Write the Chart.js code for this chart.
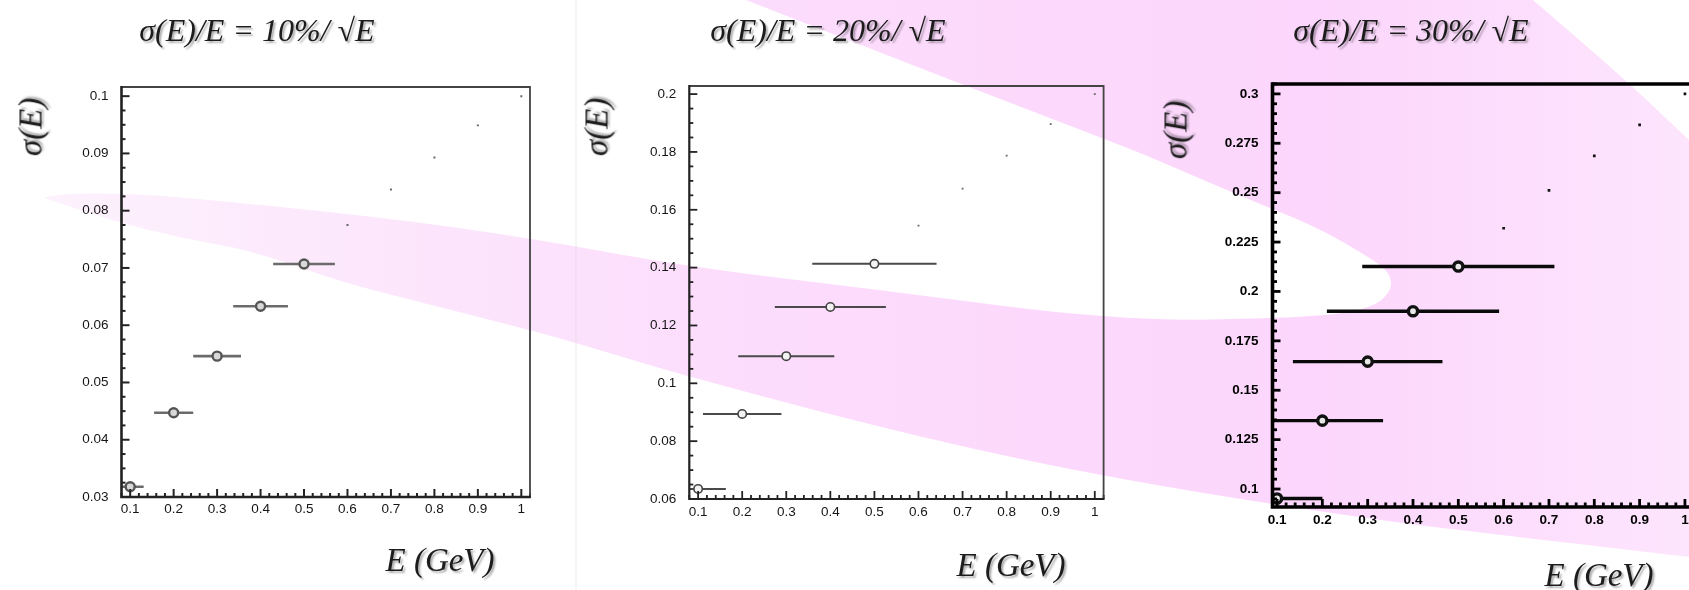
<!DOCTYPE html>
<html>
<head>
<meta charset="utf-8">
<title>Energy resolution</title>
<script src="https://cdn.jsdelivr.net/npm/chart.js@4.4.1/dist/chart.umd.min.js"></script>
<style>
  html, body { margin: 0; padding: 0; background: #fff; }
  #page { position: relative; width: 1689px; height: 590px; overflow: hidden; }
  #page canvas { position: absolute; left: 0; top: 0; }
  .lbl {
    position: absolute;
    font-family: "Liberation Serif", "DejaVu Serif", serif;
    font-style: italic;
    color: #1c1c1c;
    white-space: nowrap;
    text-shadow: 2px 2px 2px rgba(0, 0, 0, 0.32);
    transform: translate(-50%, -50%);
  }
  .title { font-size: 32px; }
  .xtitle { font-size: 33px; }
  .ytitle { font-size: 33px; transform: translate(-50%, -50%) rotate(-90deg); }
</style>
</head>
<body>
<div id="page">
  <canvas id="bg" width="1689" height="590"></canvas>
  <canvas id="c10" width="1720" height="590"></canvas>
  <canvas id="c20" width="1720" height="590"></canvas>
  <canvas id="c30" width="1720" height="590"></canvas>
</div>
<script>
// energies (GeV) and measured resolutions for the three calorimeter options
const energyGeV = [0.1, 0.2, 0.3, 0.4, 0.5, 0.6, 0.7, 0.8, 0.9, 1.0];

const sigma10 = [0.0318, 0.0447, 0.0546, 0.0633, 0.0707, 0.0775, 0.0837, 0.0893, 0.0949, 0.1];
const errE10  = [0.031, 0.045, 0.055, 0.063, 0.071, 0, 0, 0, 0, 0];

const sigma20 = [0.0635, 0.0894, 0.1094, 0.1264, 0.1413, 0.1545, 0.1673, 0.1787, 0.1896, 0.2];
const errE20  = [0.063, 0.089, 0.109, 0.126, 0.141, 0, 0, 0, 0, 0];

const sigma30 = [0.0952, 0.1346, 0.1645, 0.190, 0.2126, 0.232, 0.2512, 0.2686, 0.2843, 0.3];
const errE30  = [0.1, 0.134, 0.165, 0.19, 0.212, 0, 0, 0, 0, 0];

// axis ticks
const xTickValues = [0.1, 0.2, 0.3, 0.4, 0.5, 0.6, 0.7, 0.8, 0.9, 1];
const xTickLabels = ['0.1', '0.2', '0.3', '0.4', '0.5', '0.6', '0.7', '0.8', '0.9', '1'];

const yTicks10  = [0.03, 0.04, 0.05, 0.06, 0.07, 0.08, 0.09, 0.1];
const yLabels10 = ['0.03', '0.04', '0.05', '0.06', '0.07', '0.08', '0.09', '0.1'];

const yTicks20  = [0.06, 0.08, 0.1, 0.12, 0.14, 0.16, 0.18, 0.2];
const yLabels20 = ['0.06', '0.08', '0.1', '0.12', '0.14', '0.16', '0.18', '0.2'];

const yTicks30  = [0.1, 0.125, 0.15, 0.175, 0.2, 0.225, 0.25, 0.275, 0.3];
const yLabels30 = ['0.1', '0.125', '0.15', '0.175', '0.2', '0.225', '0.25', '0.275', '0.3'];

const panelTitles = ['σ(E)/E = 10%/ √E', 'σ(E)/E = 20%/ √E', 'σ(E)/E = 30%/ √E'];
const yAxisTitle = 'σ(E)';
const xAxisTitle = 'E (GeV)';

// layout and look of each panel
const panels = [
  {
    canvas: 'c10', sigma: sigma10, err: errE10, yTicks: yTicks10, yLabels: yLabels10,
    frame: { left: 121.5, top: 87, right: 530, bottom: 497 },
    xMin: 0.08, xMax: 1.02, yMin: 0.03, yMax: 0.1016, yMinor: 0.0025,
    title: { x: 257, y: 30 }, ytitle: { x: 31, y: 127 }, xtitle: { x: 440, y: 560 },
    font: { family: 'Liberation Sans', size: 13.5, weight: 'normal' }, tickColor: '#151515',
    axisWidth: 2.6, frameWidth: 1.8, axisColor: '#222', frameColor: '#444',
    majorLen: 8, minorLen: 4, tickWidth: 2,
    barColor: '#6b6b6b', barWidth: 2.6,
    marker: { r: 4.5, bw: 2.4, border: '#555', fill: '#d8d8d8' },
    dot: { r: 1.4, color: '#666' },
    yPad: 13, xPad: 4
  },
  {
    canvas: 'c20', sigma: sigma20, err: errE20, yTicks: yTicks20, yLabels: yLabels20,
    frame: { left: 689.3, top: 86, right: 1103.6, bottom: 499 },
    xMin: 0.08, xMax: 1.02, yMin: 0.06, yMax: 0.2028, yMinor: 0.005,
    title: { x: 828, y: 30 }, ytitle: { x: 597, y: 127 }, xtitle: { x: 1011, y: 565 },
    font: { family: 'Liberation Sans', size: 13.5, weight: 'normal' }, tickColor: '#151515',
    axisWidth: 2.2, frameWidth: 1.8, axisColor: '#222', frameColor: '#444',
    majorLen: 8, minorLen: 4, tickWidth: 1.8,
    barColor: '#4a4a4a', barWidth: 2,
    marker: { r: 4.2, bw: 1.6, border: '#444', fill: '#f2f2f2' },
    dot: { r: 1.3, color: '#666' },
    yPad: 13, xPad: 5
  },
  {
    canvas: 'c30', sigma: sigma30, err: errE30, yTicks: yTicks30, yLabels: yLabels30,
    frame: { left: 1272.5, top: 84, right: 1694, bottom: 507 },
    xMin: 0.09, xMax: 1.02, yMin: 0.0909, yMax: 0.305, yMinor: 0.005,
    title: { x: 1411, y: 30 }, ytitle: { x: 1176, y: 130 }, xtitle: { x: 1599, y: 575 },
    font: { family: 'Liberation Sans', size: 13.5, weight: 'bold' }, tickColor: '#000',
    axisWidth: 3.6, frameWidth: 3.6, axisColor: '#000', frameColor: '#000',
    majorLen: 8, minorLen: 4.5, tickWidth: 2.8,
    barColor: '#0a0a0a', barWidth: 3.4,
    marker: { r: 4.6, bw: 3.4, border: '#111', fill: '#e8e8e8' },
    dot: { r: 1.9, color: '#111' },
    yPad: 14, xPad: 5
  }
];

// pink swoosh in the slide background
function drawBackground() {
  const g = document.getElementById('bg').getContext('2d');
  g.fillStyle = '#fff';
  g.fillRect(0, 0, 1689, 590);

  const grad = g.createLinearGradient(0, 0, 1689, 0);
  grad.addColorStop(0, '#fdf3fd');
  grad.addColorStop(0.2, '#fce8fc');
  grad.addColorStop(0.45, '#fcdcfc');
  grad.addColorStop(0.78, '#fcd6fc');
  grad.addColorStop(1, '#fde5fd');

  const smooth = (pts) => {
    for (let i = 1; i < pts.length - 1; i++) {
      const mx = (pts[i][0] + pts[i + 1][0]) / 2;
      const my = (pts[i][1] + pts[i + 1][1]) / 2;
      g.quadraticCurveTo(pts[i][0], pts[i][1], mx, my);
    }
    const last = pts[pts.length - 1];
    g.lineTo(last[0], last[1]);
  };

  g.beginPath();
  g.moveTo(746, 0);
  g.lineTo(1533, 0);
  smooth([[1533, 0], [1583, 43], [1633, 87], [1689, 140]]);
  g.lineTo(1700, 140);
  g.lineTo(1700, 560);
  g.lineTo(1689, 557);
  smooth([[1689, 557], [1519, 537], [1374, 520], [1120, 480], [917, 437], [689, 377],
          [576, 343], [530, 330], [380, 292], [336, 280], [250, 250], [180, 238],
          [110, 220], [60, 203], [44, 198]]);
  smooth([[44, 198], [52, 194], [125, 193], [200, 199], [380, 217], [530, 238],
          [689, 267], [880, 290], [1120, 321], [1300, 318], [1368, 310], [1392, 292],
          [1390, 272], [1367, 256], [1317, 227], [1250, 200], [1150, 157], [1120, 145],
          [930, 72], [746, 0]]);
  g.closePath();
  g.fillStyle = grad;
  g.fill();

  // faint edge of the pasted middle plot
  g.fillStyle = 'rgba(215, 215, 215, 0.45)';
  g.fillRect(575.5, 0, 1, 590);
}

function addText(cls, text, x, y) {
  const d = document.createElement('div');
  d.className = 'lbl ' + cls;
  d.textContent = text;
  d.style.left = x + 'px';
  d.style.top = y + 'px';
  document.getElementById('page').appendChild(d);
}

// error bars, inward tick marks and the frame box
const panelDecor = {
  id: 'panelDecor',
  beforeDatasetsDraw(chart) {
    const st = chart.options.plugins.panelDecor;
    const { ctx, chartArea: a, scales: { x, y } } = chart;
    ctx.save();
    ctx.beginPath();
    ctx.rect(a.left, a.top, a.right - a.left, a.bottom - a.top);
    ctx.clip();
    ctx.strokeStyle = st.barColor;
    ctx.lineWidth = st.barWidth;
    ctx.lineCap = 'butt';
    chart.data.datasets[0].data.forEach(p => {
      if (!p.ex) return;
      const py = y.getPixelForValue(p.y);
      ctx.beginPath();
      ctx.moveTo(x.getPixelForValue(p.x - p.ex), py);
      ctx.lineTo(x.getPixelForValue(p.x + p.ex), py);
      ctx.stroke();
    });
    ctx.restore();
  },
  afterDraw(chart) {
    const st = chart.options.plugins.panelDecor;
    const { ctx, chartArea: a, scales: { x, y } } = chart;
    ctx.save();

    // tick marks pointing into the frame
    ctx.strokeStyle = st.axisColor;
    ctx.lineWidth = st.tickWidth;
    const near = (v, list) => list.some(t => Math.abs(t - v) < 1e-6);
    const xMinorStep = 0.02;
    for (let k = Math.ceil(st.xMin / xMinorStep - 1e-6); k * xMinorStep <= st.xMax + 1e-9; k++) {
      const v = k * xMinorStep;
      const len = near(v, xTickValues) ? st.majorLen : st.minorLen;
      const px = x.getPixelForValue(v);
      ctx.beginPath();
      ctx.moveTo(px, a.bottom);
      ctx.lineTo(px, a.bottom - len);
      ctx.stroke();
    }
    for (let k = Math.ceil(st.yMin / st.yMinor - 1e-6); k * st.yMinor <= st.yMax + 1e-9; k++) {
      const v = k * st.yMinor;
      const len = near(v, st.yTicks) ? st.majorLen : st.minorLen;
      const py = y.getPixelForValue(v);
      ctx.beginPath();
      ctx.moveTo(a.left, py);
      ctx.lineTo(a.left + len, py);
      ctx.stroke();
    }

    // top and right sides of the frame
    ctx.strokeStyle = st.frameColor;
    ctx.lineWidth = st.frameWidth;
    ctx.beginPath();
    ctx.moveTo(a.left, a.top);
    ctx.lineTo(a.right, a.top);
    ctx.lineTo(a.right, a.bottom);
    ctx.stroke();

    // axis lines
    ctx.strokeStyle = st.axisColor;
    ctx.lineWidth = st.axisWidth;
    ctx.beginPath();
    ctx.moveTo(a.left, a.top - st.frameWidth / 2);
    ctx.lineTo(a.left, a.bottom);
    ctx.lineTo(a.right + st.frameWidth / 2, a.bottom);
    ctx.stroke();
    ctx.restore();
  }
};

function makePanel(p) {
  const yAxisW = 80;
  const xAxisH = 40;
  const cv = document.getElementById(p.canvas);
  const points = energyGeV.map((e, i) => ({ x: e, y: p.sigma[i], ex: p.err[i] }));
  const hasBar = p.err.map(v => v > 0);

  return new Chart(cv.getContext('2d'), {
    type: 'scatter',
    data: {
      datasets: [{
        data: points,
        pointStyle: hasBar.map(b => b ? 'circle' : 'rect'),
        pointRadius: hasBar.map(b => b ? p.marker.r : p.dot.r),
        pointBorderWidth: hasBar.map(b => b ? p.marker.bw : 0),
        pointBorderColor: hasBar.map(b => b ? p.marker.border : p.dot.color),
        pointBackgroundColor: hasBar.map(b => b ? p.marker.fill : p.dot.color),
        pointHoverRadius: 0
      }]
    },
    options: {
      responsive: false,
      animation: false,
      events: [],
      layout: {
        padding: {
          left: p.frame.left - yAxisW,
          top: p.frame.top,
          right: cv.width - p.frame.right,
          bottom: cv.height - p.frame.bottom - xAxisH
        }
      },
      scales: {
        x: {
          type: 'linear',
          min: p.xMin,
          max: p.xMax,
          grid: { display: false, drawTicks: false },
          border: { display: false },
          afterBuildTicks: s => { s.ticks = xTickValues.map(v => ({ value: v })); },
          afterFit: s => { s.height = xAxisH; },
          ticks: {
            autoSkip: false,
            maxRotation: 0,
            padding: p.xPad,
            color: p.tickColor,
            font: p.font,
            callback: (v, i) => xTickLabels[i]
          }
        },
        y: {
          type: 'linear',
          min: p.yMin,
          max: p.yMax,
          grid: { display: false, drawTicks: false },
          border: { display: false },
          afterBuildTicks: s => { s.ticks = p.yTicks.map(v => ({ value: v })); },
          afterFit: s => { s.width = yAxisW; },
          ticks: {
            autoSkip: false,
            padding: p.yPad,
            color: p.tickColor,
            font: p.font,
            callback: (v, i) => p.yLabels[i]
          }
        }
      },
      plugins: {
        legend: { display: false },
        tooltip: { enabled: false },
        panelDecor: {
          barColor: p.barColor, barWidth: p.barWidth,
          axisColor: p.axisColor, axisWidth: p.axisWidth,
          frameColor: p.frameColor, frameWidth: p.frameWidth,
          tickWidth: p.tickWidth, majorLen: p.majorLen, minorLen: p.minorLen,
          xMin: p.xMin, xMax: p.xMax, yMin: p.yMin, yMax: p.yMax,
          yMinor: p.yMinor, yTicks: p.yTicks
        }
      }
    },
    plugins: [panelDecor]
  });
}

drawBackground();
panels.forEach((p, i) => {
  makePanel(p);
  addText('title', panelTitles[i], p.title.x, p.title.y);
  addText('ytitle', yAxisTitle, p.ytitle.x, p.ytitle.y);
  addText('xtitle', xAxisTitle, p.xtitle.x, p.xtitle.y);
});
</script>
</body>
</html>
